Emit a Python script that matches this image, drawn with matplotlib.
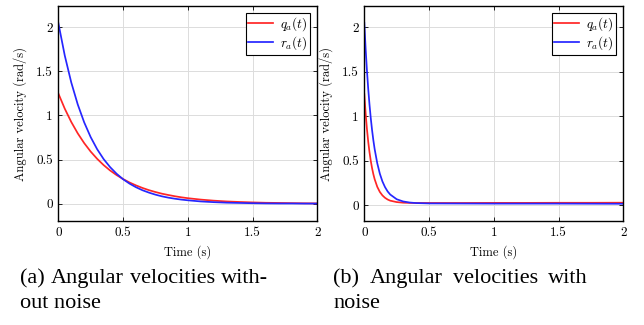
import matplotlib
matplotlib.use('Agg')
import matplotlib.pyplot as plt

# values
# (a) without noise
t_a = [0.0, 0.05, 0.1, 0.15, 0.2, 0.25, 0.3, 0.35, 0.4, 0.45, 0.5, 0.55, 0.6,
       0.65, 0.7, 0.75, 0.8, 0.85, 0.9, 0.95, 1.0, 1.1, 1.2, 1.3, 1.4, 1.5,
       1.6, 1.7, 1.8, 1.9, 2.0]
q_a = [1.250, 1.076, 0.926, 0.797, 0.686, 0.590, 0.508, 0.437, 0.376, 0.324,
       0.279, 0.240, 0.207, 0.178, 0.153, 0.132, 0.113, 0.098, 0.084, 0.072,
       0.062, 0.046, 0.034, 0.025, 0.019, 0.014, 0.010, 0.008, 0.006, 0.004,
       0.003]
r_a = [2.050, 1.678, 1.374, 1.125, 0.921, 0.754, 0.617, 0.505, 0.414, 0.339,
       0.277, 0.227, 0.186, 0.152, 0.125, 0.102, 0.083, 0.068, 0.056, 0.046,
       0.038, 0.025, 0.017, 0.011, 0.008, 0.005, 0.003, 0.002, 0.002, 0.001,
       0.001]

# (b) with noise
t_b = [0.0, 0.01, 0.02, 0.03, 0.04, 0.05, 0.06, 0.07, 0.08, 0.1, 0.12, 0.14,
       0.16, 0.18, 0.2, 0.25, 0.3, 0.35, 0.4, 0.5, 0.75, 1.0, 1.25, 1.5, 1.75,
       2.0]
q_b = [1.250, 1.038, 0.863, 0.718, 0.598, 0.499, 0.417, 0.349, 0.293, 0.208,
       0.150, 0.111, 0.084, 0.065, 0.052, 0.036, 0.029, 0.027, 0.026, 0.026,
       0.026, 0.027, 0.027, 0.028, 0.028, 0.029]
r_b = [2.050, 1.767, 1.524, 1.314, 1.134, 0.979, 0.845, 0.730, 0.631, 0.473,
       0.355, 0.268, 0.204, 0.156, 0.121, 0.068, 0.043, 0.031, 0.025, 0.021,
       0.020, 0.019, 0.019, 0.019, 0.018, 0.017]

xticks = [0, 0.5, 1, 1.5, 2]
xtick_labels = ['0', '0.5', '1', '1.5', '2']
yticks = [0, 0.5, 1, 1.5, 2]
ytick_labels = ['0', '0.5', '1', '1.5', '2']

plt.rcParams['mathtext.fontset'] = 'cm'
plt.rcParams['axes.formatter.use_mathtext'] = True

W, H = 644, 325
fig = plt.figure(figsize=(W / 100, H / 100), dpi=100)


def px_axes(x0, y0, x1, y1):
    return fig.add_axes([x0 / W, 1 - y1 / H, (x1 - x0) / W, (y1 - y0) / H])


def style_axes(ax, ylim):
    ax.set_xlim(0, 2)
    ax.set_ylim(*ylim)
    ax.set_xticks(xticks)
    ax.set_xticklabels(xtick_labels, fontfamily='cmr10', fontsize=9.5)
    ax.set_yticks(yticks)
    ax.set_yticklabels(ytick_labels, fontfamily='cmr10', fontsize=9.5)
    ax.tick_params(direction='in', top=True, right=True, length=3, width=0.6, pad=4)
    ax.grid(True, color='#dcdcdc', lw=0.7)
    ax.set_axisbelow(True)
    for s in ax.spines.values():
        s.set_linewidth(1.0)
    ax.set_xlabel('Time (s)', fontfamily='cmr10', fontsize=9)
    ax.set_ylabel('Angular velocity (rad/s)', fontfamily='cmr10', fontsize=9)
    ax.xaxis.set_label_coords(0.5, -0.11)
    ax.yaxis.set_label_coords(-0.12, 0.5)
    leg = ax.legend(loc='upper right', bbox_to_anchor=(0.972, 0.969),
                    borderaxespad=0, fancybox=False, framealpha=1,
                    edgecolor='black', fontsize=9.5, handlelength=1.9,
                    handletextpad=0.5, borderpad=0.2, labelspacing=0.1)
    leg.get_frame().set_linewidth(0.8)


ax1 = px_axes(58.3, 6, 317.3, 221.3)
ax1.plot(t_a, q_a, color='#ff2626', lw=1.25, label='$q_a(t)$')
ax1.plot(t_a, r_a, color='#2626ff', lw=1.25, label='$r_a(t)$')
style_axes(ax1, (-0.2, 2.24))

ax2 = px_axes(364.3, 6, 623.3, 221.3)
ax2.plot(t_b, q_b, color='#ff2626', lw=1.25, label='$q_a(t)$')
ax2.plot(t_b, r_b, color='#2626ff', lw=1.25, label='$r_a(t)$')
style_axes(ax2, (-0.18, 2.24))

# captions, justified like the source column
cap_kw = dict(fontfamily='Liberation Serif', fontsize=16, va='baseline')


def justified(words, x0, x1, y):
    texts = [fig.text(0, 1 - y / H, w, **cap_kw) for w in words]
    fig.canvas.draw()
    r = fig.canvas.get_renderer()
    widths = [t.get_window_extent(r).width for t in texts]
    gap = (x1 - x0 - sum(widths)) / (len(words) - 1)
    x = x0
    for t, w in zip(texts, widths):
        t.set_x(x / W)
        x += w + gap


justified(['(a)', 'Angular', 'velocities', 'with-'], 20, 268, 283)
fig.text(20 / W, 1 - 308 / H, 'out noise', **cap_kw)
justified(['(b)', 'Angular', 'velocities', 'with'], 333, 588, 283)
fig.text(333 / W, 1 - 308 / H, 'noise', **cap_kw)

fig.savefig('out.png', dpi=100)
